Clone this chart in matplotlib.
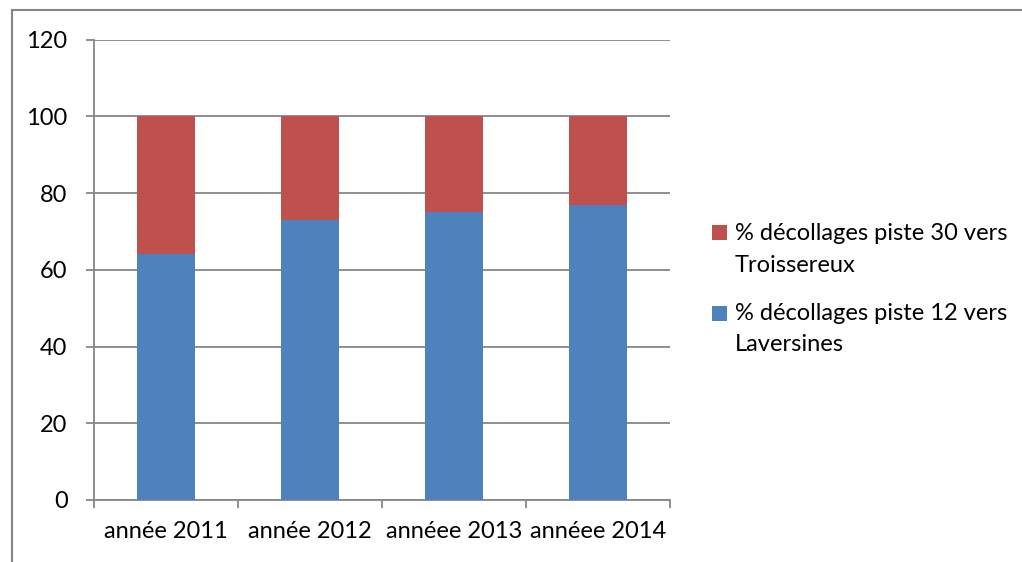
import matplotlib
matplotlib.use("Agg")
import matplotlib.pyplot as plt
from matplotlib.patches import Rectangle

categories = ["année 2011", "année 2012", "annéee 2013", "annéee 2014"]
piste12 = [64, 73, 75, 77]
piste30 = [36, 27, 25, 23]
labels = ["% décollages piste 30 vers\nTroissereux", "% décollages piste 12 vers\nLaversines"]
yticks = [0, 20, 40, 60, 80, 100, 120]

blue = "#4F81BD"
red = "#C0504D"
gray = "#868686"

plt.rcParams['font.family'] = ['Lato', 'DejaVu Sans']

W, H = 1022, 562
fig = plt.figure(figsize=(W/100, H/100), dpi=100)
ax = fig.add_axes([94/W, 1 - 500/H, 576/W, (500-39.5)/H])

x = list(range(len(categories)))
ax.bar(x, piste12, width=0.4, color=blue, zorder=3)
ax.bar(x, piste30, width=0.4, bottom=piste12, color=red, zorder=3)

ax.set_xlim(-0.5, len(categories) - 0.5)
ax.set_ylim(0, 120)
ax.set_yticks(yticks)
ax.yaxis.grid(True, color=gray, linewidth=1.3, zorder=0)
ax.set_axisbelow(True)

for s in ["top", "right"]:
    ax.spines[s].set_visible(False)
for s in ["left", "bottom"]:
    ax.spines[s].set_color(gray)
    ax.spines[s].set_linewidth(1.3)

ax.tick_params(axis="y", length=6, width=1.3, color=gray, pad=13, labelsize=17)
ax.set_xticks([i - 0.5 for i in range(len(categories) + 1)])
ax.set_xticklabels([])
ax.tick_params(axis="x", which="major", length=6, width=1.3, color=gray)
ax.set_xticks(x, minor=True)
ax.set_xticklabels(categories, minor=True)
ax.tick_params(axis="x", which="minor", length=0, pad=15, labelsize=17)

# legend drawn manually
def fx(px):
    return px / W
def fy(py):
    return 1 - py / H

legend_items = [(red, labels[0], 232, 249.5), (blue, labels[1], 313, 329)]
for col, lab, yc, ymid in legend_items:
    fig.patches.append(Rectangle((fx(712), fy(yc + 8)), 15/W, 15/H, transform=fig.transFigure,
                                 facecolor=col, edgecolor="none"))
    fig.text(fx(735), fy(ymid), lab, ha="left", va="center", fontsize=17, linespacing=1.6)

# chart border (cropped frame)
fig.patches.append(Rectangle((fx(11.5), fy(600)), (1100-11.5)/W, (600-9.5)/H, transform=fig.transFigure,
                             facecolor="none", edgecolor=gray, linewidth=1.5))

fig.savefig("out.png", dpi=100)
